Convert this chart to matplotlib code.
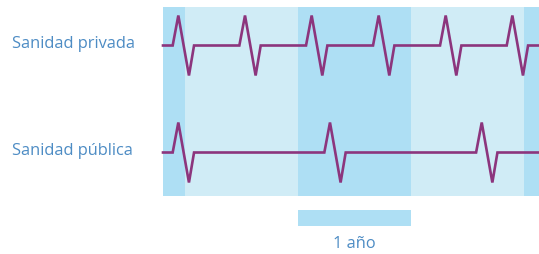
import numpy as np
import matplotlib
matplotlib.use("Agg")
from matplotlib import pyplot as plt

# bands, in years (t=0 at the start of the first full light band)
dark_bands = [(-1.0, 0.0), (1.0, 2.0), (3.0, 4.0)]
light_bands = [(0.0, 1.0), (2.0, 3.0)]

# times of the spike peaks, in years
privada_peaks = [-0.059, 0.531, 1.121, 1.714, 2.307, 2.897]
publica_peaks = [-0.059, 1.283, 2.626]

labels = ["Sanidad privada", "Sanidad pública"]
legend_label = "1 año"

# spike shape: offsets (years) and heights (px) around each peak
shape_dt = [-0.05, 0.0, 0.094, 0.139]
shape_dy = [0, -30, 30, 0]

dark = "#aedff4"
light = "#d0ecf6"
line_c = "#8c357d"
text_c = "#4d8cc4"

W, H = 539, 255
fig = plt.figure(figsize=(W / 100, H / 100), dpi=100)
ax = fig.add_axes([0, 0, 1, 1])
px = 113.0  # pixels per year
x0 = 185.0  # pixel of t=0
ax.set_xlim(-x0 / px, (W - x0) / px)
ax.set_ylim(H, 0)
ax.axis("off")

t_start = (163 - x0) / px
t_end = (W - x0) / px
top, bottom = 8, 197

for a, b in dark_bands:
    ax.fill_between([max(a, t_start), min(b, t_end)], top, bottom, color=dark, lw=0)
for a, b in light_bands:
    ax.fill_between([a, b], top, bottom, color=light, lw=0)


def ecg(peaks, base):
    xs, ys = [t_start], [base]
    for p in peaks:
        for dt, dy in zip(shape_dt, shape_dy):
            xs.append(p + dt)
            ys.append(base + dy)
    xs.append(t_end)
    ys.append(base)
    return xs, ys


for peaks, base, lab, ly in [(privada_peaks, 46.5, labels[0], 44),
                             (publica_peaks, 153.5, labels[1], 151)]:
    xs, ys = ecg(peaks, base)
    ax.plot(xs, ys, color=line_c, lw=1.9, solid_joinstyle="miter", clip_on=False)
    ax.text(-x0 / px + 12 / px, ly, lab, color=text_c, fontsize=11.8,
            family="Open Sans", va="center", ha="left")

# scale bar: one year
ax.fill_between([1.0, 2.0], 211, 227, color=dark, lw=0)
ax.text(1.5, 244, legend_label, color=text_c, fontsize=11.8,
        family="Open Sans", va="center", ha="center")

fig.savefig("out.png", dpi=100)
